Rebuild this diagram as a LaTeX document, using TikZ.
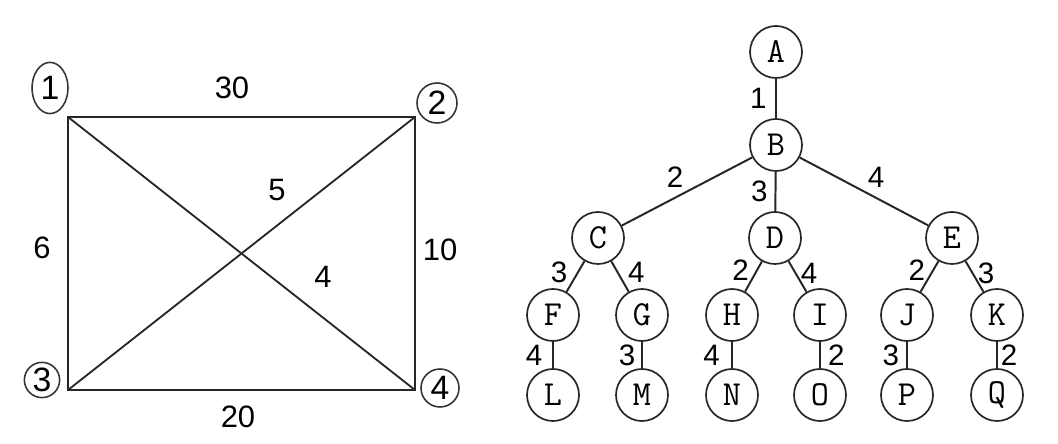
\documentclass[tikz,border=0pt]{standalone}
\usepackage{fontspec}
\setmainfont{Liberation Sans}
\usepackage{tikz}
\usetikzlibrary{shapes.geometric, positioning}

\begin{document}
\begin{tikzpicture}[
    x=0.025cm, y=-0.025cm,
    wlab/.style={font=\fontsize{22}{24}\selectfont, inner sep=2pt},
    vmark/.style={ellipse, draw=black!80, line width=1.1pt, inner sep=0pt,
                  minimum width=0.95cm, minimum height=0.95cm,
                  font=\fontsize{24}{26}\selectfont},
    tnode/.style={circle, draw=black!85, line width=1.2pt, inner sep=0pt,
                  minimum size=1.3cm, font=\ttfamily\fontsize{25}{27}\selectfont},
    tlab/.style={font=\fontsize{21}{23}\selectfont, inner sep=2pt},
    rline/.style={line width=2.1pt, draw=black!85},
    dline/.style={line width=1.3pt, draw=black!85},
    tline/.style={line width=1.4pt, draw=black!85},
]
\useasboundingbox (0,0) rectangle (1058,444);

%% ─── left: complete graph on four vertices ───────────────────
\coordinate (v1) at (68,117);
\coordinate (v2) at (415,117);
\coordinate (v3) at (68,390);
\coordinate (v4) at (415,390);

\node[vmark, minimum width=0.9cm, minimum height=1.28cm] (m1) at (50,88) {1};
\node[vmark, minimum size=1.0cm] (m2) at (437,103) {2};
\node[vmark, minimum size=0.88cm] (m3) at (42,380) {3};
\node[vmark, minimum size=0.95cm] (m4) at (440,388) {4};

\draw[rline] (v1) -- (v2) -- (v4) -- (v3) -- cycle;
\draw[dline] (v1) -- (v4);
\draw[dline] (v3) -- (v2);

\node[wlab] (w12) at (232,88)  {30};
\node[wlab] (w13) at (42,248)  {6};
\node[wlab] (w24) at (440,250) {10};
\node[wlab] (w34) at (238,417) {20};
\node[wlab] (w23) at (277,190) {5};
\node[wlab] (w14) at (323,277) {4};

%% ─── right: search tree ──────────────────────────────────────
\node[tnode] (A) at (776,52)  {A};
\node[tnode] (B) at (776,145) {B};

\node[tnode] (C) at (598,238) {C};
\node[tnode] (D) at (775,238) {D};
\node[tnode] (E) at (952,238) {E};

\node[tnode] (F) at (553,315) {F};
\node[tnode] (G) at (642,315) {G};
\node[tnode] (H) at (732,315) {H};
\node[tnode] (I) at (820,315) {I};
\node[tnode] (J) at (907,315) {J};
\node[tnode] (K) at (997,315) {K};

\node[tnode] (L) at (553,395) {L};
\node[tnode] (M) at (642,395) {M};
\node[tnode] (N) at (732,395) {N};
\node[tnode] (O) at (820,395) {O};
\node[tnode] (P) at (907,395) {P};
\node[tnode] (Q) at (997,395) {Q};

% tree edges with lengths
\draw[tline] (A) -- (B) node[tlab, midway, left=4pt] {1};
\draw[tline] (B) -- (C) node[tlab, midway, above left=0pt] {2};
\draw[tline] (B) -- (D) node[tlab, midway, left=3pt] {3};
\draw[tline] (B) -- (E) node[tlab, midway, above right=0pt] {4};

\draw[tline] (C) -- (F) node[tlab, pos=0.35, left=5pt] {3};
\draw[tline] (C) -- (G) node[tlab, pos=0.35, right=5pt] {4};
\draw[tline] (D) -- (H) node[tlab, pos=0.3, left=3pt] {2};
\draw[tline] (D) -- (I) node[tlab, pos=0.4, right=1pt] {4};
\draw[tline] (E) -- (J) node[tlab, pos=0.3, left=3pt] {2};
\draw[tline] (E) -- (K) node[tlab, pos=0.4, right=1pt] {3};

\draw[tline] (F) -- (L) node[tlab, midway, left=5pt] {4};
\draw[tline] (G) -- (M) node[tlab, midway, left=2pt] {3};
\draw[tline] (H) -- (N) node[tlab, midway, left=6pt] {4};
\draw[tline] (I) -- (O) node[tlab, midway, right=3pt] {2};
\draw[tline] (J) -- (P) node[tlab, midway, left=3pt] {3};
\draw[tline] (K) -- (Q) node[tlab, midway, right=0pt] {2};

\end{tikzpicture}
\end{document}
